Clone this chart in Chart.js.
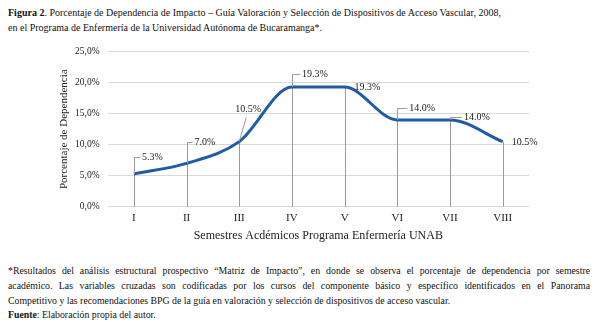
<!DOCTYPE html>
<html>
<head>
<meta charset="utf-8">
<script src="https://cdn.jsdelivr.net/npm/chart.js@4/dist/chart.umd.min.js"></script>
<style>
  body { margin: 0; background: #fff; font-family: "Liberation Serif", "Times New Roman", serif; color: #111; }
  #wrap { position: relative; width: 598px; height: 333px; overflow: hidden; }
  #cap { position: absolute; left: 8px; top: 5px; width: 585px; font-size: 10px; line-height: 15px; }
  #box { position: absolute; left: 0; top: 38px; width: 598px; height: 210px; }
  #notes { position: absolute; left: 8px; top: 264px; width: 582px; font-size: 9.8px; line-height: 14.8px; }
  #notes .j { text-align: justify; text-align-last: justify; }
</style>
</head>
<body>
<div id="wrap">
  <div id="cap"><b>Figura 2</b>. Porcentaje de Dependencia de Impacto – Guía Valoración y Selección de Dispositivos de Acceso Vascular, 2008,<br>en el Programa de Enfermería de la Universidad Autónoma de Bucaramanga*.</div>
  <div id="box"><canvas id="chart"></canvas></div>
  <div id="notes">
    <div class="j">*Resultados del análisis estructural prospectivo “Matriz de Impacto”, en donde se observa el porcentaje de dependencia por semestre</div>
    <div class="j">académico. Las variables cruzadas son codificadas por los cursos del componente básico y específico identificados en el Panorama</div>
    <div>Competitivo y las recomendaciones BPG de la guía en valoración y selección de dispositivos de acceso vascular.</div>
    <div><b>Fuente</b>: Elaboración propia del autor.</div>
  </div>
</div>
<script>
// semestres y porcentaje de dependencia
var semestres = ['I', 'II', 'III', 'IV', 'V', 'VI', 'VII', 'VIII'];
var dependencia = [5.3, 7.0, 10.5, 19.3, 19.3, 14.0, 14.0, 10.5];
var yTicks = [0, 5, 10, 15, 20, 25];

var serif = '"Liberation Serif", "Times New Roman", serif';

// where each label sits relative to its point (dx, dy) and what leader line is drawn
var labelPos = [
  { dx: 8, dy: -17, leader: 'up' },
  { dx: 8, dy: -21, leader: 'up' },
  { dx: -4, dy: -33, leader: 'diag' },
  { dx: 10, dy: -13, leader: 'up' },
  { dx: 10, dy: 0, leader: 'none' },
  { dx: 12, dy: -12, leader: 'up' },
  { dx: 14, dy: -3, leader: 'up' },
  { dx: 9, dy: 0, leader: 'none' }
];

var dropLines = {
  id: 'dropLines',
  beforeDatasetsDraw: function (chart) {
    var ctx = chart.ctx;
    var meta = chart.getDatasetMeta(0);
    var bottom = chart.scales.y.getPixelForValue(0);
    ctx.save();
    ctx.strokeStyle = '#9a9a9a';
    ctx.lineWidth = 1;
    meta.data.forEach(function (pt) {
      var x = Math.round(pt.x) + 0.5;
      ctx.beginPath();
      ctx.moveTo(x, bottom);
      ctx.lineTo(x, pt.y);
      ctx.stroke();
    });
    // y axis title
    var area = chart.chartArea;
    ctx.translate(64, (area.top + area.bottom) / 2);
    ctx.rotate(-Math.PI / 2);
    ctx.font = '11px ' + serif;
    ctx.fillStyle = '#222';
    ctx.textAlign = 'center';
    ctx.textBaseline = 'middle';
    ctx.fillText('Porcentaje de Dependencia', 0, 0);
    ctx.restore();
  },
  afterDatasetsDraw: function (chart) {
    var ctx = chart.ctx;
    var meta = chart.getDatasetMeta(0);
    ctx.save();
    ctx.font = '10px ' + serif;
    ctx.fillStyle = '#222';
    ctx.textBaseline = 'middle';
    ctx.strokeStyle = '#9a9a9a';
    ctx.lineWidth = 1;
    meta.data.forEach(function (pt, i) {
      var p = labelPos[i];
      var text = dependencia[i].toFixed(1) + '%';
      var lx = pt.x + p.dx, ly = Math.round(pt.y + p.dy) + 0.5;
      if (p.leader === 'up') {
        var x = Math.round(pt.x) + 0.5;
        ctx.beginPath();
        ctx.moveTo(x, pt.y);
        ctx.lineTo(x, ly);
        ctx.lineTo(lx - 2, ly);
        ctx.stroke();
      } else if (p.leader === 'diag') {
        ctx.beginPath();
        ctx.moveTo(pt.x, pt.y);
        ctx.lineTo(pt.x + 7, ly + 8);
        ctx.stroke();
      }
      ctx.textAlign = 'left';
      ctx.fillText(text, lx, ly);
    });
    ctx.restore();
  }
};

Chart.defaults.font.family = serif;

new Chart(document.getElementById('chart'), {
  type: 'line',
  data: {
    labels: semestres,
    datasets: [{
      data: dependencia,
      borderColor: '#1f5ba6',
      borderWidth: 3,
      pointRadius: 0,
      cubicInterpolationMode: 'monotone',
      fill: false
    }]
  },
  options: {
    responsive: true,
    maintainAspectRatio: false,
    animation: false,
    layout: { padding: { left: 67, right: 69, top: 8, bottom: 4 } },
    plugins: { legend: { display: false }, tooltip: { enabled: false } },
    scales: {
      x: {
        offset: true,
        grid: { display: false, drawTicks: false },
        border: { display: false },
        ticks: { color: '#222', font: { size: 11 }, padding: 5 },
        title: { display: true, text: 'Semestres Acdémicos Programa Enfermería UNAB', color: '#222', font: { size: 12, lineHeight: 1 }, padding: { top: 0, bottom: 2 } }
      },
      y: {
        min: 0, max: 25,
        afterBuildTicks: function (axis) { axis.ticks = yTicks.map(function (v) { return { value: v }; }); },
        grid: { color: '#d9d9d9', drawTicks: false },
        border: { display: false },
        ticks: {
          color: '#222', padding: 8,
          font: { size: 9.5 },
          callback: function (v) { return v.toFixed(1).replace('.', ',') + '%'; }
        }
      }
    }
  },
  plugins: [dropLines]
});
</script>
</body>
</html>
